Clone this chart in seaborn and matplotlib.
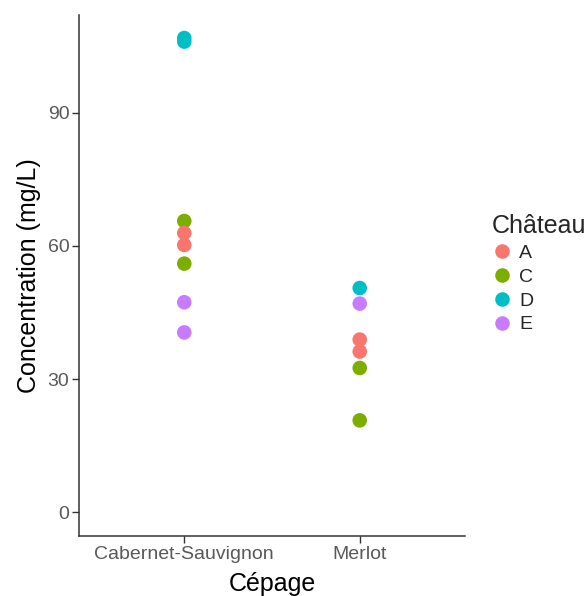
import matplotlib
matplotlib.use("Agg")
import matplotlib.pyplot as plt
import pandas as pd
import seaborn as sns

# Data
cepage = ["Cabernet-Sauvignon"] * 8 + ["Merlot"] * 6
chateau = ["D", "D", "C", "A", "A", "C", "E", "E",
           "D", "E", "A", "A", "C", "C"]
concentration = [106.8, 106.0, 65.6, 62.9, 60.2, 56.0, 47.3, 40.5,
                 50.5, 47.0, 38.9, 36.2, 32.5, 20.7]

hue_order = ["A", "C", "D", "E"]
palette = {"A": "#F8766D", "C": "#7CAE00", "D": "#00BFC4", "E": "#C77CFF"}

df = pd.DataFrame({"Cépage": cepage, "Château": chateau,
                   "Concentration": concentration})

sns.set_style("white")
plt.rcParams["font.family"] = ["Liberation Sans", "DejaVu Sans"]

fig = plt.figure(figsize=(5.87, 5.96), dpi=100)
ax = fig.add_axes([79 / 587, 1 - 536 / 596, (465 - 79) / 587, (536 - 14.5) / 596])

sns.scatterplot(data=df, x="Cépage", y="Concentration", hue="Château",
                hue_order=hue_order, palette=palette, s=110, linewidth=0,
                ax=ax)

ax.set_xlim(-0.6, 1.6)
ax.set_ylim(-5.34, 112.1)
ax.set_yticks([0, 30, 60, 90])
ax.set_xlabel("Cépage", fontsize=18, labelpad=7, color="black")
ax.set_ylabel("Concentration (mg/L)", fontsize=18, labelpad=5, color="black")
ax.tick_params(axis="both", colors="#333333", labelcolor="#595959",
               labelsize=14, length=5, width=1, direction="out", pad=2,
               left=True, bottom=True)
for side in ["top", "right"]:
    ax.spines[side].set_visible(False)
for side in ["left", "bottom"]:
    ax.spines[side].set_color("#333333")
    ax.spines[side].set_linewidth(1.1)

leg = ax.legend(title="Château", loc="upper left",
                bbox_to_anchor=(492 / 587, 1 - 214 / 596),
                bbox_transform=fig.transFigure, frameon=False,
                fontsize=14, title_fontsize=18, handlelength=1.0,
                handletextpad=0.4, labelspacing=0.32, borderaxespad=0,
                borderpad=0, markerscale=1.0)
leg._legend_box.align = "left"

fig.savefig("out.png", dpi=100)
